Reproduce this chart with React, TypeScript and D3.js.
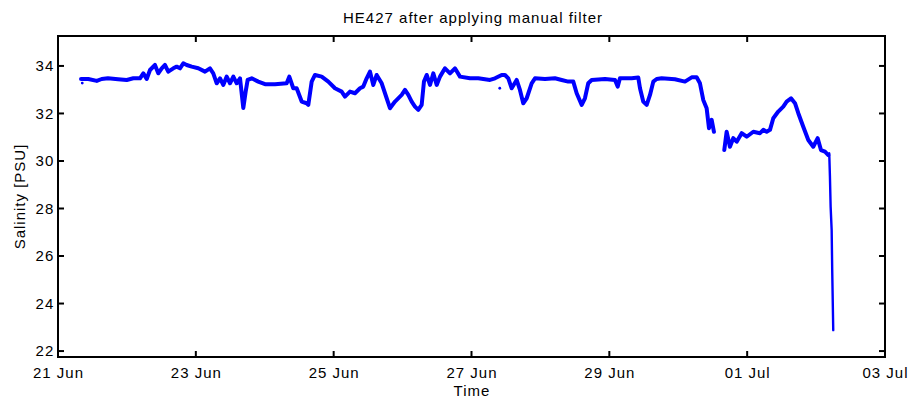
import React from "react";
import * as d3 from "d3";

// days since 21 Jun 00:00 (UTC) and salinity readings, NaN marks the data gap
const dayOffset = [
  0.334, 0.44, 0.562, 0.634, 0.725, 0.871, 0.997, 1.093, 1.19, 1.238, 1.287, 1.335,
  1.407, 1.455, 1.505, 1.552, 1.6, 1.673, 1.722, 1.77, 1.818, 1.867, 1.94, 2.036,
  2.133, 2.205, 2.253, 2.303, 2.351, 2.398, 2.448, 2.496, 2.544, 2.593, 2.641, 2.689,
  2.723, 2.752, 2.811, 2.906, 3.004, 3.149, 3.318, 3.356, 3.414, 3.463, 3.536, 3.608,
  3.632, 3.681, 3.729, 3.826, 3.922, 4.019, 4.116, 4.164, 4.237, 4.309, 4.382, 4.43,
  4.479, 4.527, 4.575, 4.624, 4.697, 4.769, 4.817, 4.89, 4.987, 5.035, 5.083, 5.132,
  5.18, 5.228, 5.277, 5.31, 5.35, 5.398, 5.446, 5.495, 5.543, 5.615, 5.688, 5.76,
  5.833, 5.978, 6.098, 6.268, 6.341, 6.438, 6.486, 6.534, 6.583, 6.655, 6.703, 6.751,
  6.801, 6.873, 6.921, 7.066, 7.211, 7.308, 7.404, 7.477, 7.526, 7.599, 7.646, 7.694,
  7.744, 7.937, 8.082, 8.121, 8.154, 8.324, 8.42, 8.445, 8.492, 8.542, 8.59, 8.638,
  8.687, 8.759, 8.952, 9.097, 9.195, 9.267, 9.315, 9.363, 9.412, 9.446, 9.485, 9.518,
  9.6,
  9.668, 9.702, 9.75, 9.798, 9.848, 9.92, 9.993, 10.089, 10.186, 10.234, 10.283, 10.331,
  10.379, 10.451, 10.524, 10.573, 10.636, 10.694, 10.742, 10.814, 10.887, 10.959, 11.023, 11.071,
  11.129, 11.177, 11.191,
  11.201, 11.211, 11.226, 11.234, 11.249,
];

const salinity = [
  33.45, 33.45, 33.37, 33.45, 33.48, 33.44, 33.41, 33.48, 33.48, 33.69, 33.45, 33.83,
  34.04, 33.69, 33.9, 34.04, 33.76, 33.9, 33.97, 33.9, 34.11, 34.04, 33.97, 33.9,
  33.76, 33.9, 33.69, 33.27, 33.48, 33.2, 33.55, 33.27, 33.55, 33.27, 33.48, 32.23,
  32.92, 33.41, 33.48, 33.34, 33.23, 33.23, 33.27, 33.55, 33.06, 33.06, 32.5, 32.43,
  32.36, 33.34, 33.62, 33.55, 33.34, 33.06, 32.92, 32.71, 32.92, 32.85, 33.06, 33.13,
  33.48, 33.76, 33.2, 33.62, 33.27, 32.64, 32.22, 32.5, 32.78, 32.99, 32.78, 32.5,
  32.29, 32.15, 32.36, 33.34, 33.62, 33.2, 33.69, 33.2, 33.55, 33.9, 33.69, 33.9,
  33.55, 33.48, 33.48, 33.41, 33.48, 33.62, 33.62, 33.48, 33.06, 33.41, 32.99, 32.43,
  32.64, 33.27, 33.48, 33.45, 33.48, 33.41, 33.34, 33.34, 32.85, 32.36, 32.64, 33.27,
  33.41, 33.45, 33.41, 33.13, 33.48, 33.48, 33.51, 33.06, 32.5, 32.36, 32.78, 33.34,
  33.45, 33.48, 33.44, 33.34, 33.52, 33.52, 33.27, 32.57, 32.22, 31.38, 31.73, 31.23,
  NaN,
  30.46, 31.23, 30.6, 30.96, 30.81, 31.17, 31.02, 31.23, 31.17, 31.31, 31.23, 31.31,
  31.8, 32.08, 32.29, 32.5, 32.64, 32.43, 32.01, 31.44, 30.88, 30.6, 30.96, 30.46,
  30.39, 30.25, 30.32,
  29.34, 28.08, 27.09, 25.41, 22.88,
];

// index where the final steep drop begins (drawn thinner)
const dropStart = 158;

// isolated single readings
const strayDays = [0.352, 6.41];
const straySalinity = [33.28, 33.06];

const xTickDates = [
  "2014-06-21", "2014-06-23", "2014-06-25", "2014-06-27",
  "2014-06-29", "2014-07-01", "2014-07-03",
];
const yTicks = [22, 24, 26, 28, 30, 32, 34];

const startDate = Date.UTC(2014, 5, 21);
const endDate = Date.UTC(2014, 6, 3);
const toDate = (d: number) => new Date(startDate + d * 86400000);

export default function App() {
  const width = 913;
  const height = 406;
  const margin = { top: 36, right: 28, bottom: 49, left: 58 };
  const x0 = margin.left;
  const x1 = width - margin.right;
  const y0 = margin.top;
  const y1 = height - margin.bottom;

  const x = d3.scaleUtc().domain([new Date(startDate), new Date(endDate)]).range([x0, x1]);
  const y = d3.scaleLinear().domain([21.75, 35.26]).range([y1, y0]);

  const pts = dayOffset.map((d, i) => ({ date: toDate(d), s: salinity[i] }));
  const line = d3
    .line<{ date: Date; s: number }>()
    .defined((d) => !isNaN(d.s))
    .x((d) => x(d.date))
    .y((d) => y(d.s));

  const mainPath = line(pts.slice(0, dropStart + 1)) || "";
  const dropPath = line(pts.slice(dropStart)) || "";

  const fmt = d3.utcFormat("%d %b");
  const font = "Liberation Sans, Arial, sans-serif";
  const fs = 15;
  const tick = 6;
  const ls = 1;

  return (
    <svg width={width} height={height} style={{ position: "absolute", left: 0, top: 0 }}>
      <rect width={width} height={height} fill="#fff" />

      <path d={mainPath} fill="none" stroke="#0000ff" strokeWidth={4} strokeLinejoin="round" strokeLinecap="round" />
      <path d={dropPath} fill="none" stroke="#0000ff" strokeWidth={2.4} strokeLinejoin="round" strokeLinecap="round" />
      {strayDays.map((d, i) => (
        <circle key={i} cx={x(toDate(d))} cy={y(straySalinity[i])} r={1.4} fill="#0000ff" />
      ))}

      {/* box */}
      <rect x={x0} y={y0} width={x1 - x0} height={y1 - y0} fill="none" stroke="#000" strokeWidth={2} />

      {/* x ticks */}
      {xTickDates.map((s) => {
        const dt = new Date(s + "T00:00:00Z");
        const px = x(dt);
        return (
          <g key={s}>
            <line x1={px} x2={px} y1={y1} y2={y1 - tick} stroke="#000" strokeWidth={2} />
            <line x1={px} x2={px} y1={y0} y2={y0 + tick} stroke="#000" strokeWidth={2} />
            <text x={px + ls / 2} y={378} textAnchor="middle" fontFamily={font} fontSize={fs} letterSpacing={ls} fill="#000">
              {fmt(dt)}
            </text>
          </g>
        );
      })}

      {/* y ticks */}
      {yTicks.map((t) => {
        const py = y(t);
        return (
          <g key={t}>
            <line x1={x0} x2={x0 + tick} y1={py} y2={py} stroke="#000" strokeWidth={2} />
            <line x1={x1} x2={x1 - tick} y1={py} y2={py} stroke="#000" strokeWidth={2} />
            <text x={54.3} y={py} dy="0.36em" textAnchor="end" fontFamily={font} fontSize={fs} letterSpacing={ls} fill="#000">
              {t}
            </text>
          </g>
        );
      })}

      <text x={473} y={22.5} textAnchor="middle" fontFamily={font} fontSize={fs} letterSpacing={ls} fill="#000">
        HE427 after applying manual filter
      </text>
      <text x={472} y={396} textAnchor="middle" fontFamily={font} fontSize={fs} letterSpacing={ls} fill="#000">
        Time
      </text>
      <text
        transform={`translate(25, ${(y0 + y1) / 2}) rotate(-90)`}
        textAnchor="middle"
        fontFamily={font}
        fontSize={fs}
        letterSpacing={ls}
        fill="#000"
      >
        Salinity [PSU]
      </text>
    </svg>
  );
}
